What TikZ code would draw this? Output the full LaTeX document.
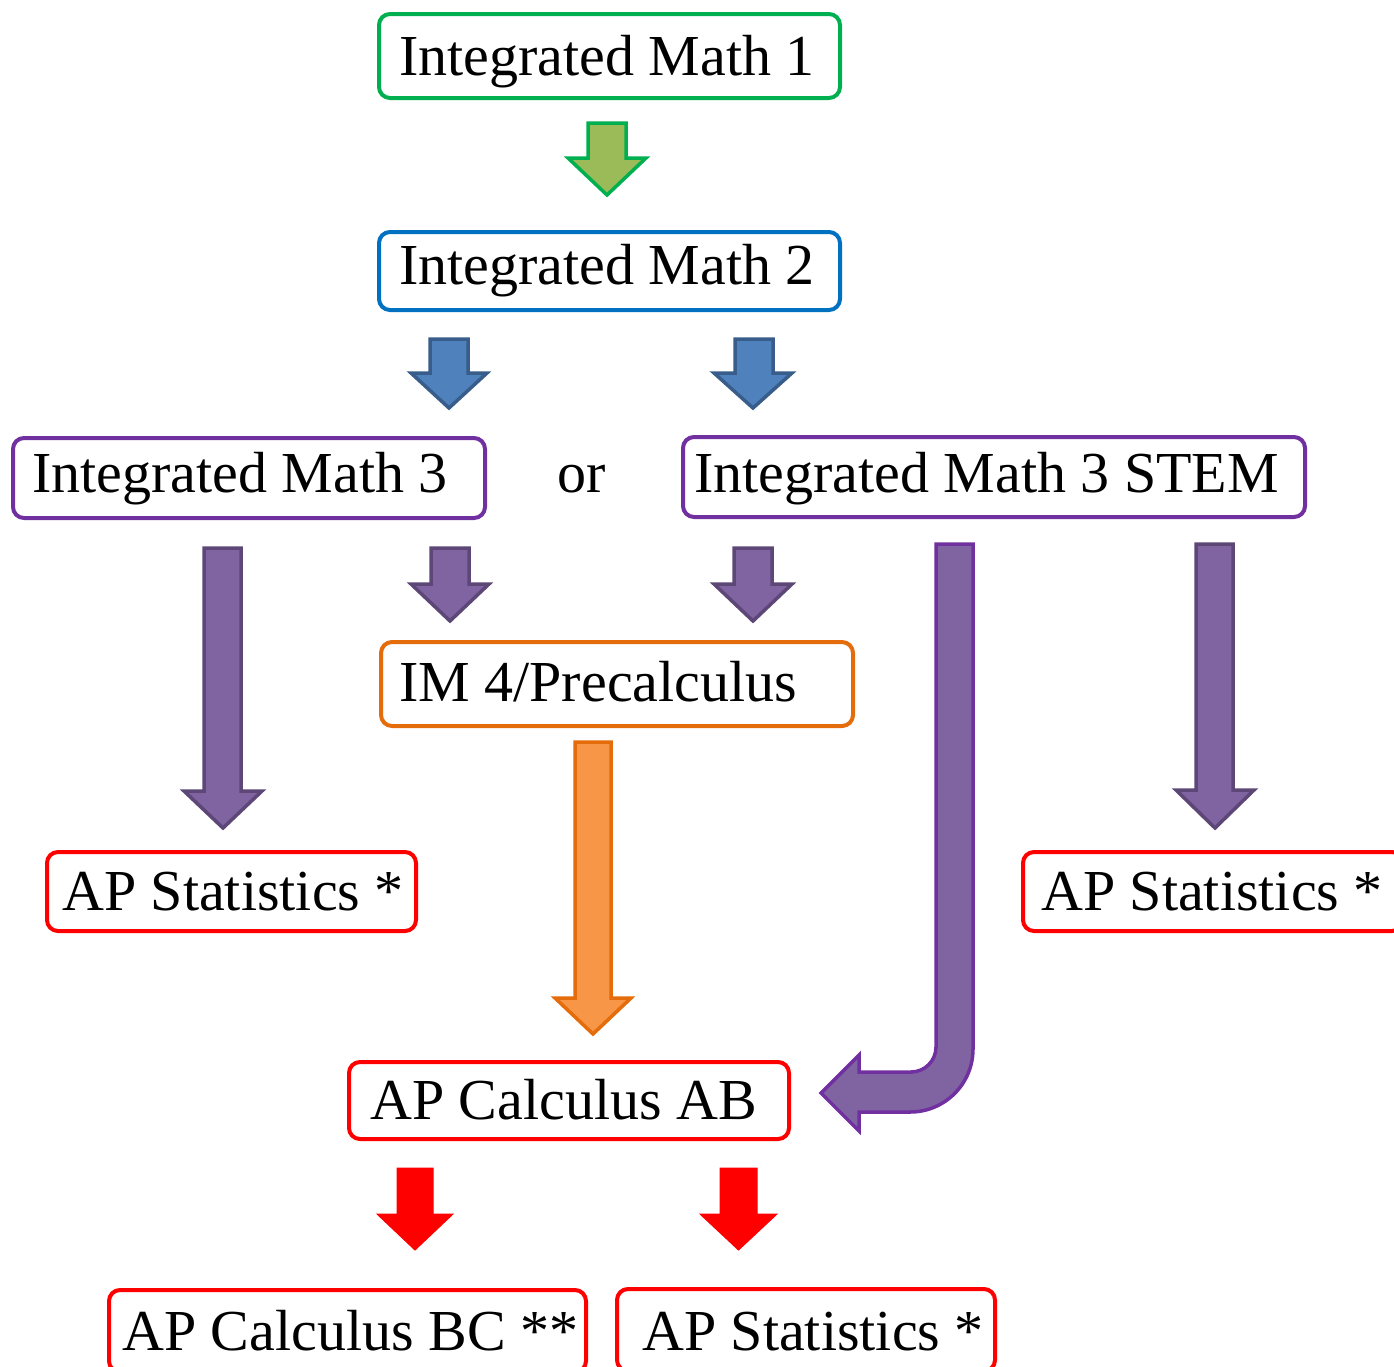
\documentclass[tikz,border=0pt]{standalone}
\usepackage{fontspec}
\setmainfont{Liberation Serif}
\definecolor{cgreen}{HTML}{00B050}
\definecolor{cgreenfill}{HTML}{9BBB59}
\definecolor{cblue}{HTML}{0070C0}
\definecolor{cbluefill}{HTML}{4F81BD}
\definecolor{cblueline}{HTML}{385D8A}
\definecolor{cpurple}{HTML}{7030A0}
\definecolor{cpurplefill}{HTML}{8064A2}
\definecolor{cpurpleline}{HTML}{5C4776}
\definecolor{corange}{HTML}{E46C0A}
\definecolor{corangefill}{HTML}{F79646}
\definecolor{cred}{HTML}{FF0000}
% down block arrow: #1 shaft left, #2 shaft right, #3 top, #4 head start, #5 head left, #6 head right, #7 tip y
\newcommand\DownBlock[8]{%
  \path[#8] (#1,#3) -- (#2,#3) -- (#2,#4) -- (#6,#4) -- ({(#5+#6)/2},#7) -- (#5,#4) -- (#1,#4) -- cycle;}
\begin{document}
\begin{tikzpicture}[x=1pt,y=-1pt,
  box/.style={draw, line width=4pt, rounded corners=11pt, fill=white, inner sep=0pt, anchor=north west},
  lbl/.style={anchor=base west, inner sep=0pt, font=\fontsize{58pt}{70pt}\selectfont},
  garrow/.style={fill=cgreenfill, draw=cgreen, line width=3.5pt},
  barrow/.style={fill=cbluefill, draw=cblueline, line width=3.5pt},
  parrow/.style={fill=cpurplefill, draw=cpurpleline, line width=3.5pt},
  bentarrow/.style={fill=cpurplefill, draw=cpurple, line width=3.5pt},
  oarrow/.style={fill=corangefill, draw=corange, line width=3.5pt},
  rarrow/.style={fill=cred, draw=cred, line width=1pt}]
\useasboundingbox (0,0) rectangle (1394,1366);
\clip (0,0) rectangle (1394,1366);

% boxes
\node[box, draw=cgreen, minimum width=461pt, minimum height=84pt] (im1) at (377,12) {};
\node[box, draw=cblue, minimum width=461pt, minimum height=78pt] (im2) at (377,230) {};
\node[box, draw=cpurple, minimum width=472pt, minimum height=80pt] (im3) at (11,436) {};
\node[box, draw=cpurple, minimum width=622pt, minimum height=80pt] (im3s) at (681,435) {};
\node[box, draw=corange, minimum width=472pt, minimum height=84pt] (im4) at (379,640) {};
\node[box, draw=cred, minimum width=369pt, minimum height=79pt] (aps1) at (45,850) {};
\node[box, draw=cred, minimum width=380pt, minimum height=79pt] (aps2) at (1021,850) {};
\node[box, draw=cred, minimum width=440pt, minimum height=77pt] (ab) at (347,1060) {};
\node[box, draw=cred, minimum width=477pt, minimum height=82pt] (bc) at (107,1288) {};
\node[box, draw=cred, minimum width=378pt, minimum height=82pt] (aps3) at (615,1287) {};

% labels
\node[lbl] (im1t) at (399,75) {Integrated Math 1};
\node[lbl] (im2t) at (399,284) {Integrated Math 2};
\node[lbl] (im3t) at (32,492) {Integrated Math 3};
\node[lbl] (ort) at (557,492) {or};
\node[lbl] (im3st) at (694,492) {Integrated Math 3 STEM};
\node[lbl] (im4t) at (399,701) {IM 4/Precalculus};
\node[lbl] (aps1t) at (62,910) {AP Statistics *};
\node[lbl] (aps2t) at (1041,910) {AP Statistics *};
\node[lbl] (abt) at (370,1119) {AP Calculus AB};
\node[lbl] (bct) at (122,1350) {AP Calculus BC **};
\node[lbl] (aps3t) at (642,1350) {AP Statistics *};

% block arrows
\DownBlock{588}{626}{123}{158}{568}{646}{195}{garrow}
\DownBlock{430}{468}{339}{373}{411}{487}{408}{barrow}
\DownBlock{735}{773}{339}{373}{714}{792}{408}{barrow}
\DownBlock{204}{241}{548}{791}{184}{262}{828}{parrow}
\DownBlock{431}{469}{548}{584}{411}{489}{621}{parrow}
\DownBlock{734}{772}{548}{584}{714}{792}{621}{parrow}
\DownBlock{1196}{1233}{544}{790}{1176}{1254}{828}{parrow}
\DownBlock{575}{611}{742}{998}{555}{631}{1034}{oarrow}
\DownBlock{397}{433}{1168}{1214}{377}{453}{1250}{rarrow}
\DownBlock{720}{757}{1168}{1214}{700}{777}{1250}{rarrow}

% bent arrow from IM3 STEM to AP Calculus AB
\path[bentarrow] (936,544) -- (936,1047) arc[start angle=0, end angle=90, radius=25]
  -- (859,1072) -- (859,1055) -- (821,1093) -- (859,1131) -- (859,1112) -- (910,1112)
  arc[start angle=90, end angle=0, radius=63] -- (973,544) -- cycle;
\end{tikzpicture}
\end{document}
